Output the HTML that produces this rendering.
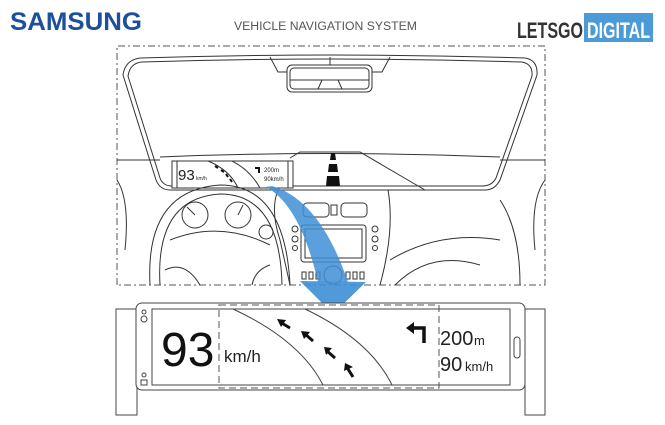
<!DOCTYPE html>
<html><head><meta charset="utf-8"><style>
html,body{margin:0;padding:0;background:#fff;}
svg{display:block}
</style></head><body>
<svg width="665" height="425" viewBox="0 0 665 425" xmlns="http://www.w3.org/2000/svg" font-family="Liberation Sans, sans-serif">
<rect width="665" height="425" fill="#fff"/>
<!-- header -->
<text x="10" y="30" font-size="25" font-weight="bold" fill="#1c4f9c" textLength="132" lengthAdjust="spacingAndGlyphs">SAMSUNG</text>
<text x="234" y="30" font-size="11.5" fill="#555" textLength="183" lengthAdjust="spacingAndGlyphs">VEHICLE NAVIGATION SYSTEM</text>
<text x="517" y="38" font-size="22" font-weight="bold" fill="#333" textLength="66" lengthAdjust="spacingAndGlyphs">LETSGO</text>
<rect x="584" y="13" width="69" height="29" fill="#4b9bd8"/>
<text x="587" y="38" font-size="22" font-weight="bold" fill="#fff" textLength="63" lengthAdjust="spacingAndGlyphs">DIGITAL</text>

<g fill="none" stroke="#333" stroke-width="1">
<!-- dashed frame -->
<path d="M117 285 V46 H545 V285 H117" stroke-dasharray="7 3 2 3" stroke="#555"/>
<!-- windshield -->
<path d="M123 75 Q125 60 140 58 Q330 52 525 58 Q538 60 537 75 L500 180 Q495 190 485 190 L170 190 Q160 190 156 180 Z"/>
<path d="M128 76 Q130 63 142 62 Q330 56 522 62 Q533 64 532 76 L496 178 Q492 186 482 186 L172 186 Q163 186 160 178 Z"/>
<!-- mirror -->
<path d="M270 57 L278 72 H287 M390 57 L382 72 H372"/>
<line x1="330" y1="57" x2="330" y2="65"/>
<rect x="287" y="65" width="85" height="27" rx="5"/>
<rect x="290" y="68" width="79" height="21" rx="4"/>
<line x1="290" y1="80" x2="369" y2="80"/>
<path d="M322 80 L318 89 M338 80 L342 89"/>
<!-- dash area lines -->
<path d="M117 160 L160 160 M500 160 L545 160"/>
<path d="M160 157 Q330 150 500 157"/>
<path d="M290 158 L300 152 L360 152 L425 190"/>
<path d="M117 180 Q130 200 125 250 M545 180 Q530 200 535 250"/>
<!-- hud small -->
<rect x="172" y="161" width="121" height="27" fill="#fff"/>
<line x1="177" y1="161" x2="177" y2="188"/>
<line x1="288" y1="161" x2="288" y2="188"/>
<path d="M208 161 Q230 170 238 188"/>
<path d="M232 161 Q250 170 260 188"/>
</g>
<text x="178" y="180" font-size="15" fill="#222">93</text>
<text x="196" y="180" font-size="5" fill="#222">km/h</text>
<path d="M215 166 l3 2 M221 170 l3 2 M226 174 l2 3 M230 179 l2 3" stroke="#111" stroke-width="2"/>
<path d="M255 168 h4 v5" stroke="#111" stroke-width="2" fill="none"/>
<text x="264" y="172" font-size="6" fill="#222">200m</text>
<text x="264" y="181" font-size="6" fill="#222">90km/h</text>
<!-- road -->
<polygon points="331,153 335,153 336,160 330,160" fill="#111"/>
<polygon points="329,164 337,164 338,172 328,172" fill="#111"/>
<polygon points="327,176 339,176 340,186 326,186" fill="#111"/>
<g fill="none" stroke="#333" stroke-width="1">
<!-- steering wheel -->
<path d="M150 285 Q145 190 220 185 Q285 185 290 285"/>
<path d="M160 285 Q155 198 220 194 Q280 194 282 285"/>
<path d="M170 240 Q220 220 270 245"/>
<path d="M165 270 Q185 260 200 285 M270 265 Q255 270 252 285"/>
<circle cx="195" cy="215" r="13"/><line x1="195" y1="215" x2="187" y2="207"/>
<circle cx="238" cy="215" r="13"/><line x1="238" y1="215" x2="243" y2="205"/>
<circle cx="266" cy="232" r="7"/>
<!-- console -->
<path d="M278 190 Q270 210 280 240 L290 285 M388 190 Q395 230 380 285"/>
<rect x="303" y="203" width="26" height="14" rx="4"/>
<rect x="341" y="203" width="26" height="14" rx="4"/>
<rect x="331" y="205" width="6" height="10"/>
<rect x="301" y="225" width="65" height="37" rx="3"/>
<rect x="305" y="229" width="57" height="29"/>
<circle cx="295" cy="229" r="3"/><circle cx="295" cy="239" r="3"/><circle cx="295" cy="248" r="2.5"/>
<circle cx="375" cy="229" r="3"/><circle cx="375" cy="239" r="3"/><circle cx="375" cy="248" r="2.5"/>
<rect x="302" y="272" width="4" height="7"/><rect x="309" y="272" width="4" height="7"/><rect x="316" y="272" width="4" height="7"/>
<rect x="346" y="272" width="4" height="7"/><rect x="353" y="272" width="4" height="7"/><rect x="360" y="272" width="4" height="7"/>
<circle cx="333" cy="275" r="9"/>
<path d="M390 260 Q440 230 500 240 M395 285 Q430 250 480 265 M500 200 Q520 230 520 285"/>
</g>
<!-- blue arrow -->
<path d="M266 187 Q300 205 318 282 L348 282 Q320 200 272 186 Z" fill="#3e8fd6" opacity="0.85"/>
<polygon points="300,281 366,282 333,314" fill="#3e8fd6" opacity="0.9"/>

<!-- bottom display -->
<g fill="none" stroke="#444" stroke-width="1">
<rect x="116" y="309" width="21" height="106"/>
<rect x="525" y="309" width="20" height="106"/>
<rect x="136" y="303" width="389" height="87" rx="6" fill="#fff"/>
<rect x="152" y="309" width="358" height="76"/>
<rect x="219" y="305" width="220" height="83" stroke-dasharray="7 4" stroke="#555"/>
<path d="M233 309 Q300 340 323 385"/>
<path d="M305 309 Q370 340 392 385"/>
<circle cx="144" cy="312" r="2"/><circle cx="144" cy="319" r="3"/>
<circle cx="144" cy="375" r="2"/><rect x="141" y="380" width="6" height="5"/>
<rect x="514" y="337" width="6" height="21" rx="3"/>
</g>
<text x="161" y="366" font-size="48" fill="#111">93</text>
<text x="224" y="362" font-size="17" fill="#222">km/h</text>
<g fill="#111" stroke="#111" stroke-width="3">
<line x1="280" y1="322" x2="290" y2="328"/><polygon points="277,319 286,320 281,327" stroke="none"/>
<line x1="305" y1="334" x2="313" y2="341"/><polygon points="301,331 310,332 304,339" stroke="none"/>
<line x1="327" y1="351" x2="335" y2="358"/><polygon points="324,347 332,348 326,355" stroke="none"/>
<line x1="348" y1="369" x2="353" y2="377"/><polygon points="345,363 353,367 344,371" stroke="none"/>
</g>
<path d="M413 328 H424 V343" stroke="#111" stroke-width="3.5" fill="none"/>
<polygon points="406,328 414,322 414,334" fill="#111"/>
<text x="440" y="345" font-size="20" fill="#222">200</text><text x="474" y="345" font-size="13" fill="#222">m</text>
<text x="440" y="371" font-size="20" fill="#222">90</text><text x="465" y="371" font-size="13" fill="#222">km/h</text>
</svg>
</body></html>
